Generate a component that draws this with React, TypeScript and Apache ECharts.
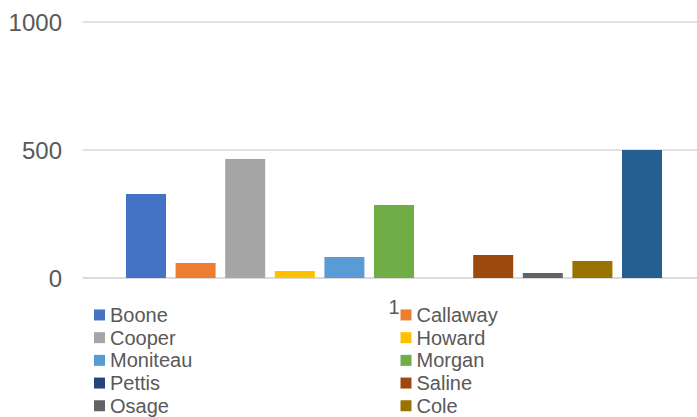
import React, { useEffect, useRef } from "react";
import * as echarts from "echarts";

const categories = ["1"];
const seriesNames = [
  "Boone", "Callaway", "Cooper", "Howard", "Moniteau", "Morgan",
  "Pettis", "Saline", "Osage", "Cole", "Miller",
];
const seriesValues = [328, 59, 465, 27, 82, 285, 0, 90, 20, 66, 500];
const seriesColors = [
  "#4472C4", "#ED7D31", "#A5A5A5", "#FFC000", "#5B9BD5", "#70AD47",
  "#264478", "#9E480E", "#636363", "#997300", "#255E91",
];
const yTicks = { min: 0, max: 1000, interval: 500 };

export default function App() {
  const ref = useRef<HTMLDivElement>(null);
  useEffect(() => {
    if (!ref.current) return;
    const chart = echarts.init(ref.current, null, { renderer: "svg" });
    const font = "'Liberation Sans', Arial, sans-serif";
    const rowPitch = 22.7;
    const legends = seriesNames.map((name, i) => ({
      orient: "horizontal" as const,
      left: i % 2 === 0 ? 94 : 400.5,
      top: 303.6 + Math.floor(i / 2) * rowPitch,
      padding: 0,
      itemWidth: 11,
      itemHeight: 11,
      itemGap: 0,
      icon: "rect",
      selectedMode: false,
      data: [name],
      textStyle: { fontFamily: font, fontSize: 20, color: "#595959", lineHeight: rowPitch },
    }));
    chart.setOption({
      animation: false,
      grid: {
        left: 83,
        width: 622,
        top: 22,
        bottom: 139,
        containLabel: false,
        outerBoundsMode: "none",
      },
      legend: legends,
      xAxis: {
        type: "category",
        data: categories,
        axisLine: { show: true, lineStyle: { color: "#D9D9D9", width: 1.5 } },
        axisTick: { show: false },
        axisLabel: { fontFamily: font, fontSize: 20, color: "#595959", margin: 19 },
      },
      yAxis: {
        type: "value",
        min: yTicks.min,
        max: yTicks.max,
        interval: yTicks.interval,
        axisLine: { show: false },
        axisTick: { show: false },
        splitLine: { lineStyle: { color: "#D9D9D9", width: 1.5 } },
        axisLabel: {
          fontFamily: font,
          fontSize: 24,
          color: "#595959",
          margin: 21,
          formatter: (v: number) => String(v),
        },
      },
      series: seriesNames.map((name, i) => ({
        name,
        type: "bar",
        data: [seriesValues[i]],
        barWidth: 40,
        barGap: "24%",
        itemStyle: { color: seriesColors[i] },
      })),
    });
    return () => chart.dispose();
  }, []);
  return (
    <div
      ref={ref}
      style={{ position: "absolute", left: 0, top: 0, width: 697, height: 417 }}
    />
  );
}
